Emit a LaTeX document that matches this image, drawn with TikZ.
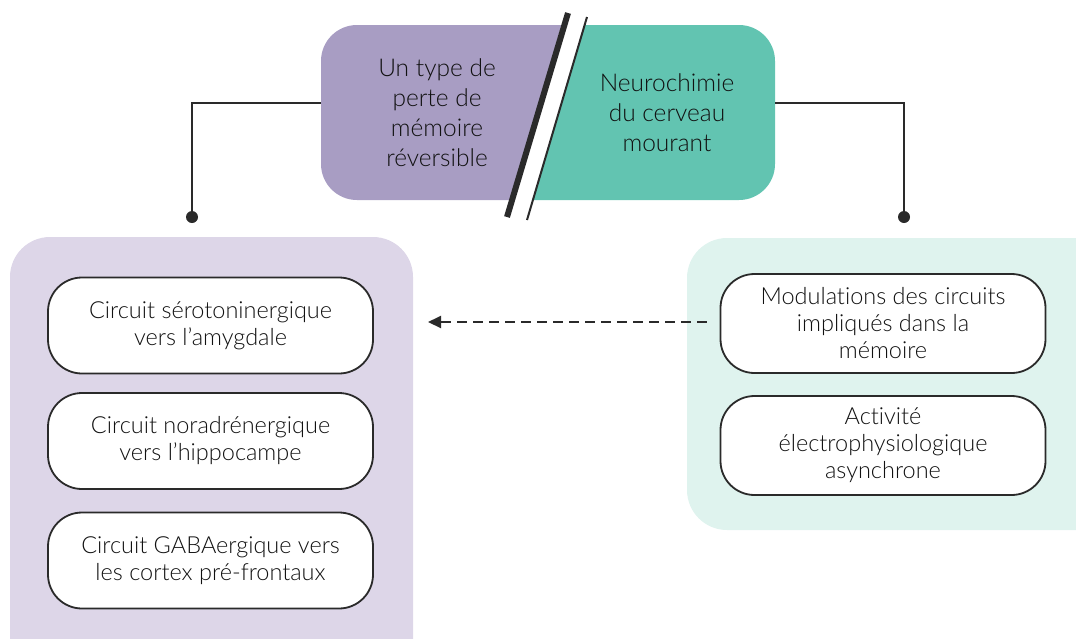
\documentclass[tikz,border=0pt]{standalone}
\usepackage{fontspec}
\setmainfont{Lato}[UprightFont={* Light}, Ligatures={NoCommon}]
\usetikzlibrary{arrows.meta}
\definecolor{topP}{HTML}{A89DC3}
\definecolor{topG}{HTML}{62C4B1}
\definecolor{panP}{HTML}{DDD6E8}
\definecolor{panG}{HTML}{DFF3EE}
\definecolor{ink}{HTML}{2A2A2A}
\definecolor{txt}{HTML}{111111}
\tikzset{
  itembox/.style={draw=ink, line width=1.8pt, fill=white, rounded corners=34pt,
    minimum width=325pt, minimum height=96pt, align=center, inner sep=0pt,
    font=\fontsize{23.5}{27}\selectfont, text=txt},
  toptext/.style={align=center, inner sep=0pt, font=\fontsize{24.5}{30}\selectfont, text=txt},
  link/.style={draw=ink, line width=1.5pt},
}
\begin{document}
\begin{tikzpicture}[x=1pt,y=-1pt]
\useasboundingbox (0,0) rectangle (1076,638);
% panels
\fill[panP, rounded corners=40pt] (10,237) rectangle (413,700);
\fill[panG, rounded corners=40pt] (687,238) rectangle (1140,530);
% top boxes
\begin{scope}
  \clip (300,0) -- (570,0) -- (565,12) -- (507,217) -- (500,230) -- (300,230) -- cycle;
  \fill[topP, rounded corners=36pt] (321,25) rectangle (640,200);
\end{scope}
\begin{scope}
  \clip (588,0) -- (800,0) -- (800,230) -- (525,230) -- (527,220) -- (587,17) -- cycle;
  \fill[topG, rounded corners=36pt] (470,25) rectangle (775,200);
\end{scope}
\draw[ink, line width=6pt] (568,13) -- (507,217);
\draw[ink, line width=2pt] (587,17) -- (527,220);
\node[toptext] (ptext) at (437,113) {Un type de\\perte de\\mémoire\\réversible};
\node[toptext] (gtext) at (667,113) {Neurochimie\\du cerveau\\mourant};
\coordinate (pleft) at (321,103);
\coordinate (gright) at (775,103);
\coordinate (ldot) at (192,217);
\coordinate (rdot) at (904,217);
\draw[link] (pleft) -| (ldot);
\draw[link] (gright) -| (rdot);
\fill[ink] (ldot) circle (6pt);
\fill[ink] (rdot) circle (6pt);
% item boxes
\node[itembox] (l1) at (210.5,325.5) {Circuit sérotoninergique\\vers l’amygdale};
\node[itembox] (l2) at (210.5,441) {Circuit noradrénergique\\vers l’hippocampe};
\node[itembox] (l3) at (210.5,560.5) {Circuit GABAergique vers\\les cortex pré-frontaux};
\node[itembox, minimum height=99pt] (r1) at (883,323.5) {Modulations des circuits\\impliqués dans la\\mémoire};
\node[itembox, minimum height=99pt] (r2) at (883,445.5) {Activité\\électrophysiologique\\asynchrone};
\coordinate (arrEnd) at (428,322);
\draw[ink, line width=2pt, dash pattern=on 10pt off 6pt, -{Triangle[length=13pt,width=12pt]}]
  ([xshift=-13pt]r1.west |- arrEnd) -- (arrEnd);
\end{tikzpicture}
\end{document}
